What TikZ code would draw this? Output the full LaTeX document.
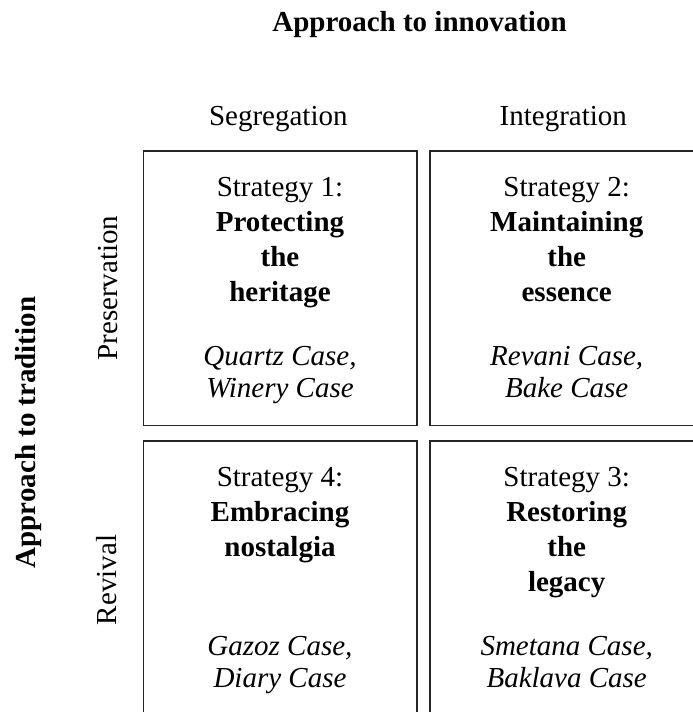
\documentclass[tikz,border=0pt]{standalone}
\usepackage{fontspec}
\setmainfont{Liberation Serif}

\tikzset{
  cell/.style={draw=black!85, line width=1.6pt},
  lbl/.style={anchor=base, inner sep=0pt},
  strat/.style={lbl, align=center},
  cases/.style={lbl, align=center, font=\itshape}
}

\begin{document}
\fontsize{29}{35}\selectfont
\begin{tikzpicture}[x=1pt, y=-1pt]
  \clip (0,0) rectangle (693,712);

  % the four cells
  \draw[cell] (143.3,150.7) rectangle (416.7,425.3);
  \draw[cell] (430,150.7) rectangle (703.4,425.3);
  \draw[cell] (143.3,440.7) rectangle (416.7,715.3);
  \draw[cell] (430,440.7) rectangle (703.4,715.3);

  % axis titles
  \node[lbl, font=\bfseries] (innov) at (419.5,31.7) {Approach to innovation};
  \node[lbl] (segr) at (278.3,125) {Segregation};
  \node[lbl] (integr) at (563.3,125) {Integration};

  \node[lbl, rotate=90, font=\bfseries] (trad) at (35,432.5) {Approach to tradition};
  \node[lbl, rotate=90] (pres) at (117,288) {Preservation};
  \node[lbl, rotate=90] (reviv) at (116,580) {Revival};

  % top row (base = last line)
  \node[strat] (s1) at (280,301.7) {Strategy 1:\\\textbf{Protecting}\\\textbf{the}\\\textbf{heritage}};
  \node[cases] (c1) at (280,397.7) {Quartz Case,\\[-3pt]Winery Case};
  \node[strat] (s2) at (566.7,301.7) {Strategy 2:\\\textbf{Maintaining}\\\textbf{the}\\\textbf{essence}};
  \node[cases] (c2) at (566.7,397.7) {Revani Case,\\[-3pt]Bake Case};

  % bottom row
  \node[strat] (s4) at (280,556.7) {Strategy 4:\\\textbf{Embracing}\\\textbf{nostalgia}};
  \node[cases] (c4) at (280,687.7) {Gazoz Case,\\[-3pt]Diary Case};
  \node[strat] (s3) at (566.7,591.7) {Strategy 3:\\\textbf{Restoring}\\\textbf{the}\\\textbf{legacy}};
  \node[cases] (c3) at (566.7,687.7) {Smetana Case,\\[-3pt]Baklava Case};
\end{tikzpicture}
\end{document}
